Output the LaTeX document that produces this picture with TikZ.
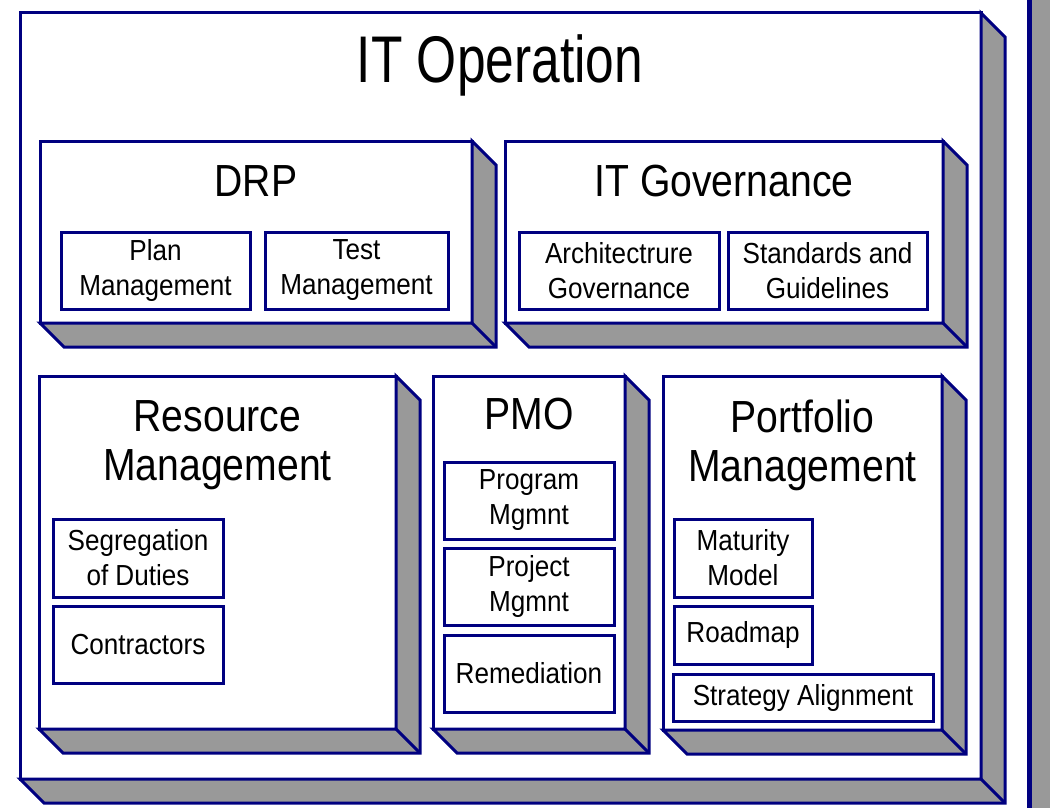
\documentclass[tikz,border=0pt]{standalone}
\usepackage{fontspec}
\setmainfont{Liberation Sans}[FakeStretch=0.9]
\newfontfamily\headfont{Liberation Sans}[FakeStretch=0.87]
\newfontfamily\titlefont{Liberation Sans}[FakeStretch=0.78]
\usepackage{xcolor}
\usepackage{tikz}
\usetikzlibrary{calc}

\definecolor{navy}{RGB}{0,0,128}
\definecolor{slabgray}{RGB}{153,153,153}

% depth faces of a 3D panel
\newcommand{\shadeslab}[1]{%
  \filldraw[slab] (#1.north east) -- ++(24,24) -- ($(#1.south east)+(24,24)$)
    -- ($(#1.south west)+(24,24)$) -- (#1.south west) -- (#1.south east) -- cycle;
  \draw[slab] (#1.south east) -- ++(24,24);
}

\begin{document}
\begin{tikzpicture}[x=1pt, y=-1pt,
    panel/.style={draw=navy, fill=white, line width=3pt, outer sep=0pt, inner sep=0pt},
    slab/.style={draw=navy, fill=slabgray, line width=3pt, line join=miter},
    item/.style={draw=navy, fill=white, line width=3pt, outer sep=0pt, inner sep=0pt,
      align=center, font=\fontsize{29}{35}\selectfont},
    head/.style={align=center, font=\headfont\fontsize{45}{49}\selectfont, inner sep=0pt}]
        \useasboundingbox (0,0) rectangle (1050,808);

        % Right edge bar
        \filldraw[draw=navy, fill=slabgray, line width=5pt] (1029.5,-10) rectangle (1070,820);

        % IT Operation
        \node[panel, minimum width=961pt, minimum height=766pt] (itop) at (500.5,396) {};
        \shadeslab{itop}
        \node[font=\titlefont\fontsize{66}{79}\selectfont, anchor=base, inner sep=0pt] (itopT) at (500,82) {IT Operation};

        % DRP
        \node[panel, minimum width=432pt, minimum height=182pt] (drp) at (256,232) {};
        \shadeslab{drp}
        \node[head, anchor=base] (drpT) at (256,196) {DRP};
        \node[item, minimum width=189pt, minimum height=77pt] (plan) at (155.5,270.5) {Plan\\Management};
        \node[item, minimum width=183pt, minimum height=77pt] (test) at (356.5,270.5) {Test\\Management};

        % IT Governance
        \node[panel, minimum width=438pt, minimum height=182pt] (gov) at (724,232) {};
        \shadeslab{gov}
        \node[head, anchor=base] (govT) at (724,196) {IT Governance};
        \node[item, minimum width=200pt, minimum height=77pt] (arch) at (619,270.5) {Architectrure\\Governance};
        \node[item, minimum width=199pt, minimum height=77pt] (std) at (827.5,270.5) {Standards and\\Guidelines};

        % Resource Management
        \node[panel, minimum width=357pt, minimum height=353pt] (res) at (217.5,552.5) {};
        \shadeslab{res}
        \node[head] (resT) at (217.5,445) {Resource\\Management};
        \node[item, minimum width=170pt, minimum height=78pt] (seg) at (138,558) {Segregation\\of Duties};
        \node[item, minimum width=170pt, minimum height=77pt] (con) at (138,644.5) {Contractors};

        % PMO
        \node[panel, minimum width=192pt, minimum height=353pt] (pmo) at (529,552.5) {};
        \shadeslab{pmo}
        \node[head, anchor=base] (pmoT) at (529,429) {PMO};
        \node[item, minimum width=170pt, minimum height=77pt] (prog) at (529,500.5) {Program\\Mgmnt};
        \node[item, minimum width=170pt, minimum height=77pt] (proj) at (529,586.5) {Project\\Mgmnt};
        \node[item, minimum width=170pt, minimum height=77pt] (rem) at (529,673.5) {Remediation};

        % Portfolio Management
        \node[panel, minimum width=279pt, minimum height=354pt] (port) at (802.5,553) {};
        \shadeslab{port}
        \node[head] (portT) at (802.5,445) {Portfolio\\Management};
        \node[item, minimum width=138pt, minimum height=78pt] (mat) at (743,558) {Maturity\\Model};
        \node[item, minimum width=138pt, minimum height=58pt] (road) at (743,635) {Roadmap};
        \node[item, minimum width=260pt, minimum height=47pt] (strat) at (803,697.5) {Strategy Alignment};
    \end{tikzpicture}
\end{document}
